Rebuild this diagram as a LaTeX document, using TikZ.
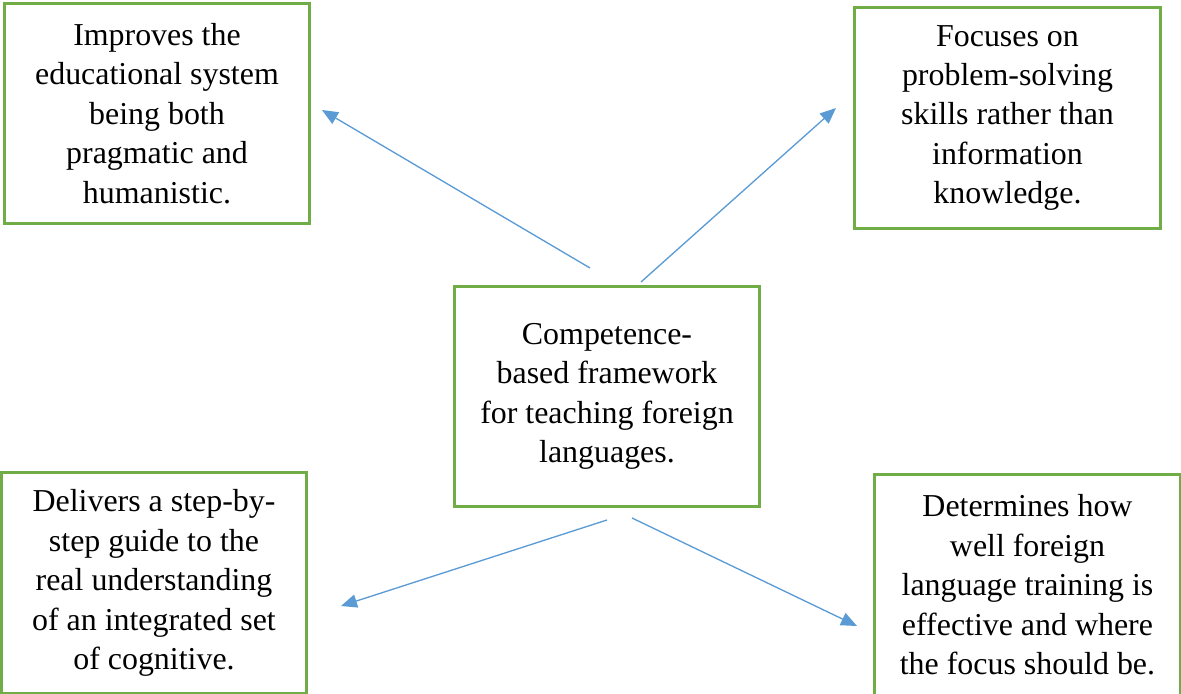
\documentclass[tikz,border=0pt]{standalone}
\usepackage{fontspec}
\setmainfont{Liberation Serif}
\usetikzlibrary{arrows.meta}
\definecolor{boxgreen}{RGB}{112,173,71}
\definecolor{linkblue}{RGB}{91,155,213}

\begin{document}
\begin{tikzpicture}
                        [
                            x=0.376pt, y=-0.376pt,
                            box/.style={draw=boxgreen, line width=1.1pt, minimum width=115pt, minimum height=83pt, inner sep=0pt, align=center, font=\fontsize{12}{14.85}\selectfont},
                            link/.style={-{Triangle[length=6pt,width=5pt]}, linkblue, line width=0.5pt}
                        ]
                        \useasboundingbox (0,0) rectangle (1181,694);
                        % centre box
                        \node[box] (frame) at (607,396.5) {Competence-\\based framework\\for teaching foreign\\languages.};
                        % four outer boxes
                        \node[box] (improves) at (157,113.5) {Improves the\\educational system\\being both\\pragmatic and\\humanistic.};
                        \node[box] (focuses) at (1007.5,118) {Focuses on\\problem-solving\\skills rather than\\information\\knowledge.};
                        \node[box] (delivers) at (154,583) {Delivers a step-by-\\step guide to the\\real understanding\\of an integrated set\\of cognitive.};
                        \node[box] (determines) at (1027.5,585) {Determines how\\well foreign\\language training is\\effective and where\\the focus should be.};
                        % free ends of the arrows
                        \coordinate (s1) at (590,268); \coordinate (e1) at (322,110);
                        \coordinate (s2) at (641,282); \coordinate (e2) at (836,108);
                        \coordinate (s3) at (607,520); \coordinate (e3) at (341,606);
                        \coordinate (s4) at (632,518); \coordinate (e4) at (857,626);
                        \draw[link] (s1) -- (e1);
                        \draw[link] (s2) -- (e2);
                        \draw[link] (s3) -- (e3);
                        \draw[link] (s4) -- (e4);
                        \end{tikzpicture}
\end{document}
